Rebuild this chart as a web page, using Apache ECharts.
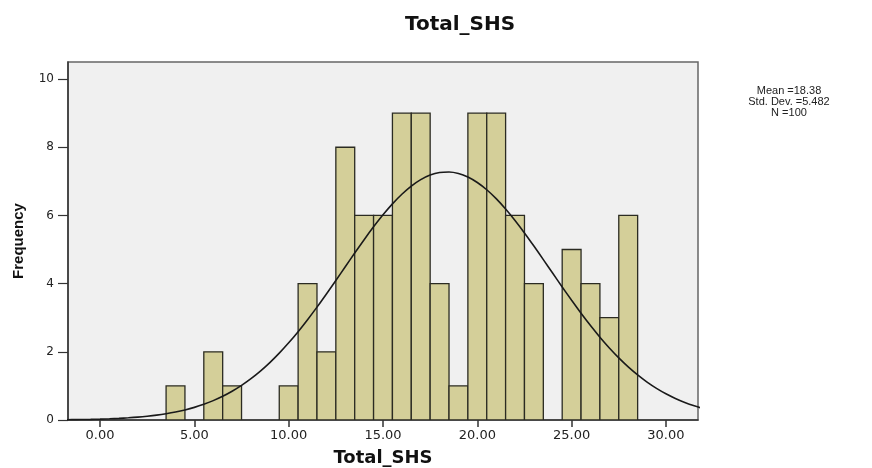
<!DOCTYPE html>
<html>
<head>
<meta charset="utf-8">
<script src="https://cdn.jsdelivr.net/npm/echarts@6/dist/echarts.min.js"></script>
<style>
html,body{margin:0;padding:0;background:#fff;}
#chart{width:872px;height:468px;}
</style>
</head>
<body>
<div id="chart"></div>
<script>
// Histogram bins (bin centre, width 1) and frequencies
var binCenters = [4, 5, 6, 7, 8, 9, 10, 11, 12, 13, 14, 15, 16, 17, 18, 19, 20, 21, 22, 23, 24, 25, 26, 27, 28];
var frequencies = [1, 0, 2, 1, 0, 0, 1, 4, 2, 8, 6, 6, 9, 9, 4, 1, 9, 9, 6, 4, 0, 5, 4, 3, 6];

// Normal curve overlay
var curveX = [-2, -1.5, -1, -0.5, 0, 0.5, 1, 1.5, 2, 2.5, 3, 3.5, 4, 4.5, 5, 5.5, 6, 6.5, 7, 7.5, 8, 8.5, 9, 9.5, 10, 10.5, 11, 11.5, 12, 12.5, 13, 13.5, 14, 14.5, 15, 15.5, 16, 16.5, 17, 17.5, 18, 18.5, 19, 19.5, 20, 20.5, 21, 21.5, 22, 22.5, 23, 23.5, 24, 24.5, 25, 25.5, 26, 26.5, 27, 27.5, 28, 28.5, 29, 29.5, 30, 30.5, 31, 31.5, 32];
var curveY = [0.004, 0.010, 0.014, 0.019, 0.026, 0.036, 0.048, 0.064, 0.084, 0.110, 0.142, 0.183, 0.233, 0.295, 0.370, 0.461, 0.568, 0.695, 0.843, 1.015, 1.212, 1.434, 1.683, 1.960, 2.263, 2.590, 2.941, 3.310, 3.697, 4.093, 4.496, 4.897, 5.289, 5.665, 6.018, 6.339, 6.622, 6.861, 7.050, 7.184, 7.260, 7.275, 7.231, 7.127, 6.966, 6.753, 6.492, 6.188, 5.852, 5.487, 5.102, 4.705, 4.303, 3.902, 3.510, 3.131, 2.770, 2.430, 2.114, 1.824, 1.560, 1.324, 1.113, 0.929, 0.769, 0.632, 0.514, 0.415, 0.332];

// Tick labels / stats
var xTicks = [0, 5, 10, 15, 20, 25, 30];
var yTicks = [0, 2, 4, 6, 8, 10];
var statMean = '18.38';
var statSD = '5.482';
var statN = '100';
var chartTitle = 'Total_SHS';
var xName = 'Total_SHS';
var yName = 'Frequency';

var barData = binCenters.map(function (c, i) { return [c, frequencies[i]]; });
var curveData = curveX.map(function (x, i) { return [x, curveY[i]]; });

var chart = echarts.init(document.getElementById('chart'), null, {renderer: 'canvas'});
chart.setOption({
  animation: false,
  backgroundColor: '#ffffff',
  title: {
    text: chartTitle,
    left: 455,
    top: 10,
    textAlign: 'center',
    textStyle: {fontFamily: 'DejaVu Sans', fontWeight: 'bold', fontSize: 20, color: '#111'}
  },
  grid: {
    left: 68, right: 174, top: 62, bottom: 48,
    containLabel: false,
    outerBoundsMode: 'none',
    show: true, backgroundColor: '#f0f0f0', borderColor: '#666', borderWidth: 1.5
  },
  xAxis: {
    type: 'value',
    min: -1.7, max: 31.7,
    name: xName,
    nameLocation: 'middle',
    nameGap: 29,
    nameTextStyle: {fontFamily: 'DejaVu Sans', fontWeight: 'bold', fontSize: 18, color: '#111'},
    axisLine: {show: true, onZero: false, lineStyle: {color: '#333', width: 1.5}},
    axisTick: {show: true, length: 7, customValues: xTicks, lineStyle: {color: '#333', width: 1.5}},
    axisLabel: {customValues: xTicks, margin: 9, fontFamily: 'DejaVu Sans', fontSize: 13, color: '#222',
      formatter: function (v) { return Number(v).toFixed(2); }},
    splitLine: {show: false}
  },
  yAxis: {
    type: 'value',
    min: 0, max: 10.5, interval: 2,
    name: yName,
    nameLocation: 'middle',
    nameGap: 42,
    nameTextStyle: {fontFamily: 'Liberation Sans', fontWeight: 'bold', fontSize: 15, color: '#111'},
    axisLine: {show: true, onZero: false, lineStyle: {color: '#333', width: 1.5}},
    axisTick: {show: true, length: 10, customValues: yTicks, lineStyle: {color: '#333', width: 1.2}},
    axisLabel: {customValues: yTicks, margin: 14, fontFamily: 'DejaVu Sans', fontSize: 12, color: '#222'},
    splitLine: {show: false}
  },
  graphic: [{
    type: 'text',
    x: 789,
    y: 85,
    style: {
      text: 'Mean =' + statMean + '\nStd. Dev. =' + statSD + '\nN =' + statN,
      font: '11px "Liberation Sans"',
      fill: '#222',
      align: 'center',
      verticalAlign: 'top',
      lineHeight: 11
    }
  }],
  series: [{
    type: 'custom',
    data: barData,
    z: 2,
    clip: true,
    renderItem: function (params, api) {
      var c = api.value(0), v = api.value(1);
      if (!v) return null;
      var p0 = api.coord([c - 0.5, v]);
      var p1 = api.coord([c + 0.5, 0]);
      return {
        type: 'rect',
        shape: {x: p0[0], y: p0[1], width: p1[0] - p0[0], height: p1[1] - p0[1]},
        style: {fill: '#d4cf99', stroke: '#2b2b22', lineWidth: 1.3}
      };
    }
  }, {
    type: 'line',
    data: curveData,
    smooth: 0.3,
    showSymbol: false,
    symbol: 'none',
    clip: true,
    z: 3,
    lineStyle: {color: '#1a1a1a', width: 1.6}
  }]
});
</script>
</body>
</html>
